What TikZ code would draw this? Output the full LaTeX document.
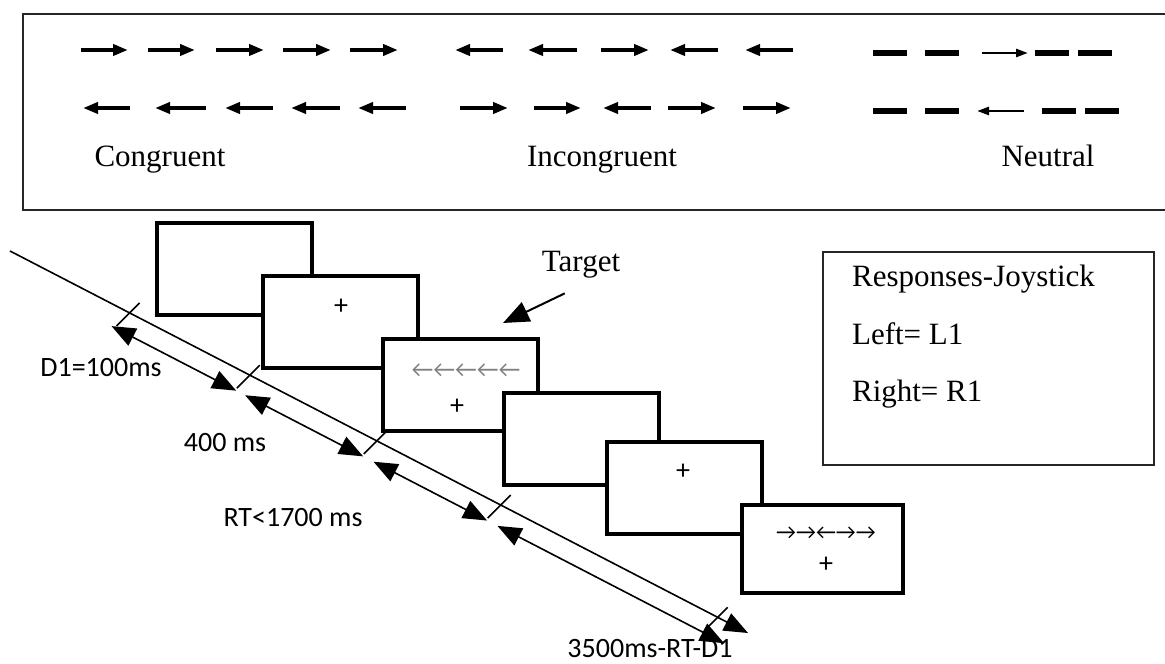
\documentclass[tikz,border=0pt]{standalone}
\usepackage{fontspec}
\setmainfont{Liberation Serif}
\newfontfamily\calfont{Carlito}
\usetikzlibrary{arrows.meta,calc}

\begin{document}
\begin{tikzpicture}[x=0.5pt,y=-0.5pt,
 flk/.style={line width=2.2pt,-{Triangle[length=7.5pt,width=5.5pt]}},
 nflk/.style={line width=1.3pt,-{Triangle[length=6pt,width=4pt]}},
 dsh/.style={line width=3pt},
 stim/.style={draw,fill=white,line width=2pt,minimum width=77.5pt,minimum height=46pt},
 cond/.style={font=\fontsize{15.5}{18}\selectfont,anchor=base},
 resp/.style={font=\fontsize{15.5}{18}\selectfont,anchor=base west},
 dur/.style={font=\calfont\fontsize{14}{16}\selectfont},
 fix/.style={font=\calfont\fontsize{14}{16}\selectfont},
 flank/.style={font=\calfont\fontsize{12}{14}\selectfont},
 durarr/.style={line width=0.8pt,{Triangle[length=12pt,width=9.5pt]}-{Triangle[length=12pt,width=9.5pt]}}]
\useasboundingbox (0,0) rectangle (1165,663);
% conditions panel
\draw[line width=1pt,black!85] (1170,14) -| (23,210) -- (1170,210);
\foreach \a/\b in {81/128,148/195,216/264,283/331,350/398} \draw[flk] (\a,50) -- (\b,50);
\foreach \a/\b in {130/83,206/155,273/225,340/291,406/358} \draw[flk] (\a,108) -- (\b,108);
\foreach \a/\b in {503/455,577/528,601/649,718/670,793/745} \draw[flk] (\a,50) -- (\b,50);
\foreach \a/\b in {460/508,534/581,651/603,668/716,743/791} \draw[flk] (\a,108) -- (\b,108);
\foreach \a in {873,925,1035,1078} \draw[dsh] (\a,53) -- ++(34,0);
\draw[nflk] (982,53) -- (1028,53);
\foreach \a in {873,925,1042,1085} \draw[dsh] (\a,111) -- ++(34,0);
\draw[nflk] (1024,111) -- (977,111);
\node[cond] (cong) at (160,167) {Congruent};
\node[cond] (incong) at (602,167) {Incongruent};
\node[cond] (neut) at (1048,167) {Neutral};
% trial sequence
\node[stim] (s1) at (234.5,269) {};
\node[stim] (s2) at (340,321.5) {};
\node[stim] (s3) at (460.5,384.5) {};
\node[stim] (s4) at (581,439) {};
\node[stim] (s5) at (684.5,487.5) {};
\node[stim,minimum width=80.5pt,minimum height=44pt] (s6) at (822,549) {};
\node[fix] (f2) at (341,307) {+};
\node[flank,text=gray] (fl3) at (466,371) {←←←←←};
\node[fix] (f3) at (457,407) {+};
\node[fix] (f5) at (683,472) {+};
\node[flank,font=\calfont\fontsize{11}{13}\selectfont] (fl6) at (826,533) {→→←→→};
\node[fix] (f6) at (826,565) {+};
\node[cond,anchor=center] (tgt) at (581,265) {Target};
\coordinate (tgttip) at (503,323);
\draw[line width=1pt,-{Triangle[length=13pt,width=10.5pt]},shorten <=9pt] (tgt.south) -- (tgttip);
% responses
\node[draw,line width=1pt,black!85,minimum width=165.5pt,minimum height=106.5pt] (resp) at (988.5,358.5) {};
\node[resp] (rj) at (845,286) {Responses-Joystick};
\node[resp] (rl) at (845,344) {Left= L1};
\node[resp] (rr) at (845,401) {Right= R1};
% time line
\coordinate (tl0) at (10,251);
\coordinate (tl1) at (748,633);
\coordinate (ll0) at (0.8,268.8);
\coordinate (ll1) at (738.8,650.8);
\draw[line width=0.8pt,-{Triangle[length=12pt,width=9.5pt]}] (tl0) -- (tl1);
\foreach \p [count=\i] in {.162,.325,.497,.665,.959} {
  \coordinate (t\i) at ($(tl0)!\p!(tl1)$);
  \draw[line width=0.8pt] ($(t\i)+(10,-10)$) -- ($(t\i)+(-13,13)$);
}
\foreach \a/\b in {.150/.319,.331/.491,.505/.659,.673/.98}
  \draw[durarr] ($(ll0)!\a!(ll1)$) -- ($(ll0)!\b!(ll1)$);
\node[dur] (d1) at (101,368) {D1=100ms};
\node[dur] (d2) at (225,443) {400 ms};
\node[dur] (d3) at (293,518) {RT<1700 ms};
\node[dur,anchor=base] (d4) at (650,657) {3500ms-RT-D1};
\end{tikzpicture}
\end{document}
